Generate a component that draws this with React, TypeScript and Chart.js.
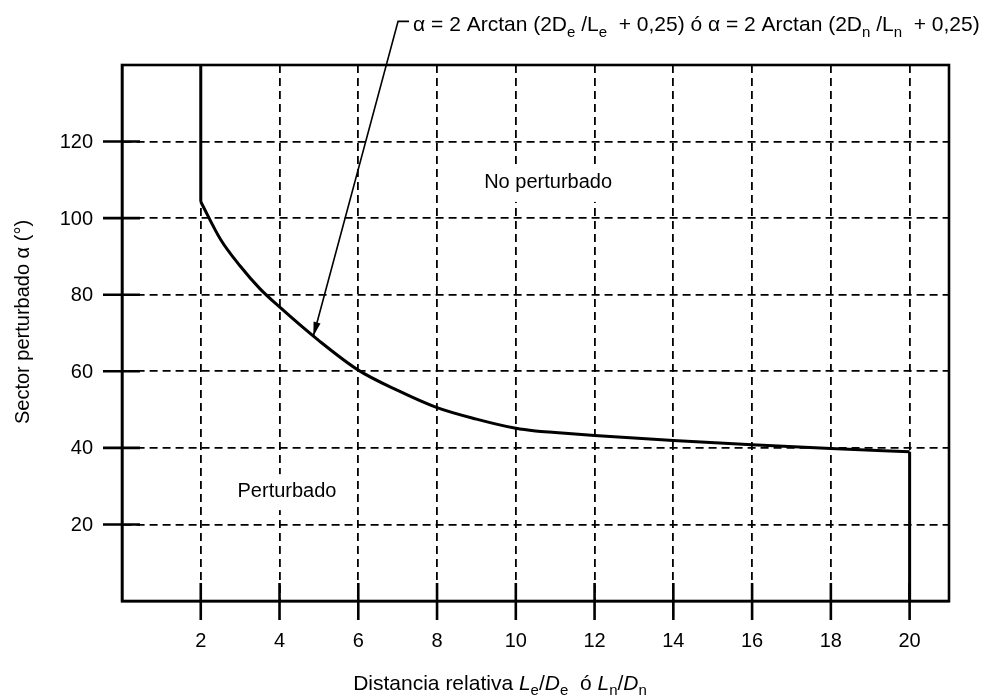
import React, { useEffect, useRef } from "react";
import { Chart, registerables } from "chart.js";

Chart.register(...registerables);

// ---- data ----
const curveX = [2, 2.5, 3, 3.5, 4, 5, 6, 7, 8, 9, 10, 10.5, 11, 12, 14, 16, 18, 20];
const curveY = [104.3, 94.5, 87.5, 81.6, 76.8, 68.0, 60.3, 55.0, 50.5, 47.5, 45.1, 44.4, 44.0, 43.2, 41.9, 40.8, 39.8, 39.0];
const leftEdgeX = [2, 2];
const leftEdgeY = [140, 104.3];
const rightEdgeX = [20, 20];
const rightEdgeY = [39.0, 0];
const xTicks = [2, 4, 6, 8, 10, 12, 14, 16, 18, 20];
const yTicks = [20, 40, 60, 80, 100, 120];
const xMin = 0;
const xMax = 21;
const yMin = 0;
const yMax = 140;

const labelUpper = "No perturbado";
const labelLower = "Perturbado";
const yTitle = "Sector perturbado α (°)";

type Seg = { t: string; it?: boolean; sub?: boolean };
const formula: Seg[] = [
  { t: "α = 2 Arctan (2D" },
  { t: "e", sub: true },
  { t: " /L" },
  { t: "e", sub: true },
  { t: "  + 0,25) ó α = 2 Arctan (2D" },
  { t: "n", sub: true },
  { t: " /L" },
  { t: "n", sub: true },
  { t: "  + 0,25)" },
];
const xTitle: Seg[] = [
  { t: "Distancia relativa " },
  { t: "L", it: true },
  { t: "e", sub: true },
  { t: "/" },
  { t: "D", it: true },
  { t: "e", sub: true },
  { t: "  ó " },
  { t: "L", it: true },
  { t: "n", sub: true },
  { t: "/" },
  { t: "D", it: true },
  { t: "n", sub: true },
];

const FONT = '"Liberation Sans", Arial, Helvetica, sans-serif';

function zip(xs: number[], ys: number[]) {
  return xs.map((x, i) => ({ x, y: ys[i] }));
}

function drawRich(ctx: CanvasRenderingContext2D, segs: Seg[], x: number, y: number, size: number, align: "left" | "center") {
  const font = (s: Seg) => `${s.it ? "italic " : ""}${s.sub ? Math.round(size * 0.72) : size}px ${FONT}`;
  let w = 0;
  for (const s of segs) {
    ctx.font = font(s);
    w += ctx.measureText(s.t).width;
  }
  let cx = align === "center" ? x - w / 2 : x;
  ctx.textAlign = "left";
  ctx.textBaseline = "alphabetic";
  for (const s of segs) {
    ctx.font = font(s);
    ctx.fillText(s.t, cx, s.sub ? y + size * 0.25 : y);
    cx += ctx.measureText(s.t).width;
  }
}

const overlay = {
  id: "overlay",
  afterDraw(chart: any) {
    const { ctx, chartArea: a, scales } = chart;
    const xs = scales.x;
    const ys = scales.y;
    ctx.save();
    ctx.strokeStyle = "#000";
    ctx.fillStyle = "#000";

    // frame
    ctx.lineWidth = 2.6;
    ctx.setLineDash([]);
    ctx.strokeRect(a.left, a.top, a.right - a.left, a.bottom - a.top);

    // crossing tick marks
    ctx.lineWidth = 2.6;
    ctx.beginPath();
    for (const v of xTicks) {
      const px = xs.getPixelForValue(v);
      ctx.moveTo(px, a.bottom - 18);
      ctx.lineTo(px, a.bottom + 19);
    }
    for (const v of yTicks) {
      const py = ys.getPixelForValue(v);
      ctx.moveTo(a.left - 19, py);
      ctx.lineTo(a.left + 18, py);
    }
    ctx.stroke();

    // tick labels
    ctx.font = `20px ${FONT}`;
    ctx.textAlign = "center";
    ctx.textBaseline = "middle";
    for (const v of xTicks) ctx.fillText(String(v), xs.getPixelForValue(v), a.bottom + 40);
    ctx.textAlign = "right";
    for (const v of yTicks) ctx.fillText(String(v), a.left - 29, ys.getPixelForValue(v) + 1);

    // region labels with white backgrounds
    const box = (text: string, cx: number, cy: number) => {
      ctx.font = `20px ${FONT}`;
      const w = ctx.measureText(text).width;
      ctx.fillStyle = "#fff";
      ctx.fillRect(cx - w / 2 - 8, cy - 17, w + 16, 36);
      ctx.fillStyle = "#000";
      ctx.textAlign = "center";
      ctx.textBaseline = "middle";
      ctx.fillText(text, cx, cy);
    };
    box(labelUpper, xs.getPixelForValue(10.82), ys.getPixelForValue(109.2));
    box(labelLower, xs.getPixelForValue(4.19), ys.getPixelForValue(28.7));

    // leader + arrow
    const tipX = xs.getPixelForValue(4.86);
    const tipY = ys.getPixelForValue(69.2);
    const cornX = xs.getPixelForValue(7.01);
    const cornY = ys.getPixelForValue(151.4);
    ctx.lineWidth = 1.6;
    ctx.beginPath();
    ctx.moveTo(cornX + 11, cornY);
    ctx.lineTo(cornX, cornY);
    ctx.lineTo(tipX, tipY);
    ctx.stroke();
    const ang = Math.atan2(tipY - cornY, tipX - cornX);
    const L = 14;
    const H = 3.6;
    ctx.beginPath();
    ctx.moveTo(tipX, tipY);
    ctx.lineTo(tipX - L * Math.cos(ang) + H * Math.sin(ang), tipY - L * Math.sin(ang) - H * Math.cos(ang));
    ctx.lineTo(tipX - L * Math.cos(ang) - H * Math.sin(ang), tipY - L * Math.sin(ang) + H * Math.cos(ang));
    ctx.closePath();
    ctx.fill();

    // formula text
    drawRich(ctx, formula, cornX + 15, cornY + 10, 21, "left");

    // axis titles
    drawRich(ctx, xTitle, 500, 690, 21, "center");
    ctx.save();
    ctx.translate(23, 322);
    ctx.rotate(-Math.PI / 2);
    ctx.font = `20px ${FONT}`;
    ctx.textAlign = "center";
    ctx.textBaseline = "middle";
    ctx.fillText(yTitle, 0, 0);
    ctx.restore();

    ctx.restore();
  },
};

export default function App() {
  const ref = useRef<HTMLCanvasElement | null>(null);
  useEffect(() => {
    document.body.style.margin = "0";
    const canvas = ref.current!;
    const lineStyle = {
      borderColor: "#000",
      borderWidth: 3,
      pointRadius: 0,
      fill: false,
    };
    const chart = new Chart(canvas, {
      type: "line",
      data: {
        datasets: [
          { ...lineStyle, data: zip(leftEdgeX, leftEdgeY), tension: 0 },
          { ...lineStyle, data: zip(curveX, curveY), cubicInterpolationMode: "monotone" },
          { ...lineStyle, data: zip(rightEdgeX, rightEdgeY), tension: 0 },
        ],
      },
      options: {
        responsive: false,
        animation: false,
        layout: { padding: { left: 122, right: 41, top: 65, bottom: 99 } },
        plugins: { legend: { display: false }, tooltip: { enabled: false } },
        elements: { point: { radius: 0 }, line: { borderJoinStyle: "miter" } },
        scales: {
          x: {
            type: "linear",
            min: xMin,
            max: xMax,
            afterBuildTicks: (s: any) => {
              s.ticks = xTicks.map((v) => ({ value: v }));
            },
            ticks: { display: false },
            grid: { drawTicks: false, color: "#000", lineWidth: 1.8 },
            border: { display: true, dash: [8, 5], color: "#000", width: 2.6 },
          },
          y: {
            type: "linear",
            min: yMin,
            max: yMax,
            afterBuildTicks: (s: any) => {
              s.ticks = yTicks.map((v) => ({ value: v }));
            },
            ticks: { display: false },
            grid: { drawTicks: false, color: "#000", lineWidth: 1.8 },
            border: { display: true, dash: [8, 5], color: "#000", width: 2.6 },
          },
        },
      } as any,
      plugins: [overlay],
    });
    return () => chart.destroy();
  }, []);
  return (
    <div style={{ width: 990, height: 700, background: "#fff" }}>
      <canvas ref={ref} width={990} height={700} style={{ display: "block" }} />
    </div>
  );
}
